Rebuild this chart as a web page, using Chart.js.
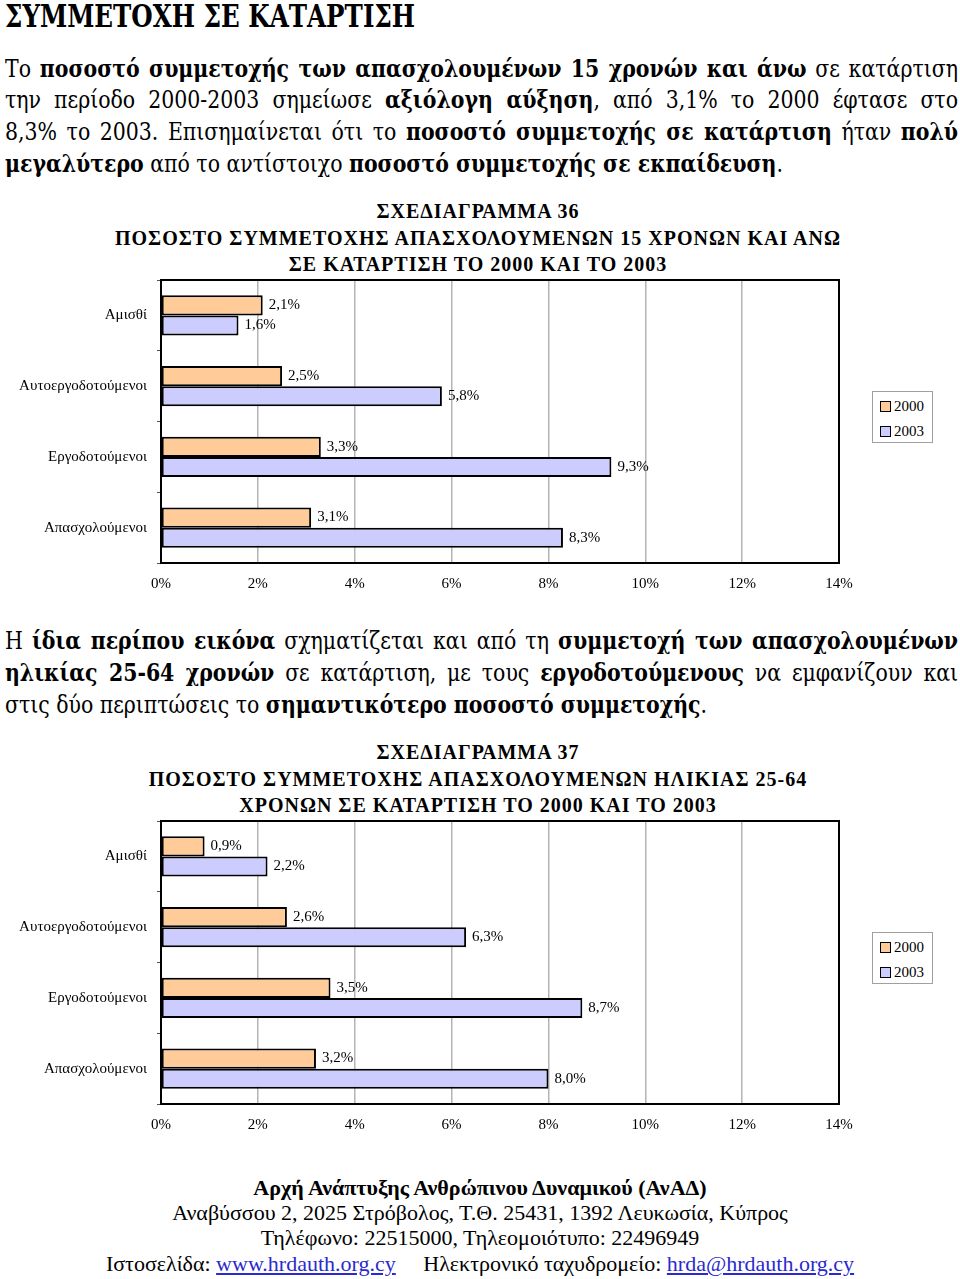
<!DOCTYPE html>
<html lang="el">
<head>
<meta charset="utf-8">
<script src="https://cdn.jsdelivr.net/npm/chart.js@4.4.0/dist/chart.umd.min.js"></script>
<style>
  body { margin: 0; background: #fff; width: 960px; height: 1279px; position: relative; overflow: hidden;
         font-family: "Liberation Serif", serif; color: #000; }
  /* Liberation Serif drops out above ~22px here, so the big text uses DejaVu Serif Condensed */
  .big { font-family: "DejaVu Serif Condensed", "DejaVu Serif", serif; font-stretch: condensed; }
  .h1 { position: absolute; left: 5px; top: -1px; font-weight: bold; font-size: 31px; line-height: 34px;
        white-space: nowrap; transform-origin: 0 0; }
  .ln { position: absolute; left: 5px; width: 953px; height: 32px; line-height: 32px; font-size: 24px;
        white-space: nowrap; text-align: justify; text-align-last: justify; transform-origin: 0 0; }
  .ln.last { text-align-last: left; }
  .probe { position: absolute; left: 0; top: 0; visibility: hidden; white-space: nowrap; }
  .ttl { position: absolute; left: 0; width: 956px; text-align: center; font-weight: bold;
         font-size: 20px; letter-spacing: 1px; line-height: 26.5px; white-space: nowrap; }
  canvas { position: absolute; left: 0; }
  .legend { position: absolute; left: 872px; width: 59px; height: 50px; border: 1px solid #a0a0a0; background: #fff; }
  .legend div { position: absolute; left: 7px; font-size: 15px; line-height: 16px; white-space: nowrap; }
  .legend span.sw { display: inline-block; width: 9px; height: 9px; border: 1.5px solid #000; margin-right: 3px; vertical-align: -1px; }
  .ft { position: absolute; left: 0; width: 960px; text-align: center; font-size: 22px; line-height: 26px; white-space: nowrap; }
  .ft a { color: #2a2ad0; text-decoration: underline; }
</style>
</head>
<body>
<div class="h1 big" id="heading">ΣΥΜΜΕΤΟΧΗ ΣΕ ΚΑΤΑΡΤΙΣΗ</div>

<div class="ln big p1" style="top:53px">Το <b>ποσοστό συμμετοχής των απασχολουμένων 15 χρονών και άνω</b> σε κατάρτιση</div>
<div class="ln big p1" style="top:84px">την περίοδο 2000-2003 σημείωσε <b>αξιόλογη αύξηση</b>, από 3,1% το 2000 έφτασε στο</div>
<div class="ln big p1" style="top:116px">8,3% το 2003. Επισημαίνεται ότι το <b>ποσοστό συμμετοχής σε κατάρτιση</b> ήταν <b>πολύ</b></div>
<div class="ln big p1 last" style="top:148px"><b>μεγαλύτερο</b> από το αντίστοιχο <b>ποσοστό συμμετοχής σε εκπαίδευση</b>.</div>

<div class="ttl" style="top:198px">ΣΧΕΔΙΑΓΡΑΜΜΑ 36<br>ΠΟΣΟΣΤΟ ΣΥΜΜΕΤΟΧΗΣ ΑΠΑΣΧΟΛΟΥΜΕΝΩΝ 15 ΧΡΟΝΩΝ ΚΑΙ ΑΝΩ<br>ΣΕ ΚΑΤΑΡΤΙΣΗ ΤΟ 2000 ΚΑΙ ΤΟ 2003</div>
<canvas id="chart36" width="960" height="339" style="top:261px"></canvas>
<div class="legend" id="legend36" style="top:391px"></div>

<div class="ln big p2" style="top:625px">Η <b>ίδια περίπου εικόνα</b> σχηματίζεται και από τη <b>συμμετοχή των απασχολουμένων</b></div>
<div class="ln big p2" style="top:657px"><b>ηλικίας 25-64 χρονών</b> σε κατάρτιση, με τους <b>εργοδοτούμενους</b> να εμφανίζουν και</div>
<div class="ln big p2 last" style="top:689px">στις δύο περιπτώσεις το <b>σημαντικότερο ποσοστό συμμετοχής</b>.</div>

<div class="ttl" style="top:739px">ΣΧΕΔΙΑΓΡΑΜΜΑ 37<br>ΠΟΣΟΣΤΟ ΣΥΜΜΕΤΟΧΗΣ ΑΠΑΣΧΟΛΟΥΜΕΝΩΝ ΗΛΙΚΙΑΣ 25-64<br>ΧΡΟΝΩΝ ΣΕ ΚΑΤΑΡΤΙΣΗ ΤΟ 2000 ΚΑΙ ΤΟ 2003</div>
<canvas id="chart37" width="960" height="339" style="top:802px"></canvas>
<div class="legend" id="legend37" style="top:932px"></div>

<div class="ft" style="top:1175px"><b>Αρχή Ανάπτυξης Ανθρώπινου Δυναμικού (ΑνΑΔ)</b></div>
<div class="ft" style="top:1200px">Αναβύσσου 2, 2025 Στρόβολος, Τ.Θ. 25431, 1392 Λευκωσία, Κύπρος</div>
<div class="ft" style="top:1225px">Τηλέφωνο: 22515000, Τηλεομοιότυπο: 22496949</div>
<div class="ft" style="top:1251px">Ιστοσελίδα: <a>www.hrdauth.org.cy</a>&nbsp;&nbsp;&nbsp;&nbsp; Ηλεκτρονικό ταχυδρομείο: <a>hrda@hrdauth.org.cy</a></div>

<script>
// data
const categories = ["Αμισθί", "Αυτοεργοδοτούμενοι", "Εργοδοτούμενοι", "Απασχολούμενοι"];
const years = ["2000", "2003"];
const chart36_2000 = [2.1, 2.5, 3.3, 3.1];
const chart36_2003 = [1.6, 5.8, 9.3, 8.3];
const chart37_2000 = [0.9, 2.6, 3.5, 3.2];
const chart37_2003 = [2.2, 6.3, 8.7, 8.0];
const xMax = 14;
const xStep = 2;

const colors = ["#FFCC99", "#CCCCFF"];
const serif = "'Liberation Serif', serif";

const fmt = (v) => v.toFixed(1).replace(".", ",") + "%";

// natural width of an element's content
function textWidth(el) {
  const p = document.createElement("span");
  p.className = "probe big";
  p.style.fontSize = getComputedStyle(el).fontSize;
  p.style.fontWeight = getComputedStyle(el).fontWeight;
  p.innerHTML = el.innerHTML;
  document.body.appendChild(p);
  const w = p.getBoundingClientRect().width;
  p.remove();
  return w;
}

// squeeze the paragraph lines so the last line ends where it does in the scan
function fitParagraph(cls, lastWidth) {
  const lines = document.querySelectorAll("." + cls);
  const sx = Math.min(1, lastWidth / textWidth(lines[lines.length - 1]));
  lines.forEach((l) => {
    l.style.width = 953 / sx + "px";
    l.style.transform = "scaleX(" + sx + ")";
  });
}

const heading = document.getElementById("heading");
heading.style.transform = "scaleX(" + 410 / textWidth(heading) + ")";
fitParagraph("p1", 778);
fitParagraph("p2", 702);

// black frame round the plot area
const framePlugin = {
  id: "frame",
  afterDatasetsDraw(chart) {
    const { ctx, chartArea: a } = chart;
    ctx.save();
    ctx.strokeStyle = "#000";
    ctx.lineWidth = 2;
    ctx.strokeRect(a.left, a.top, a.right - a.left, a.bottom - a.top);
    ctx.restore();
  },
};

// value labels at the end of each bar
const valueLabels = {
  id: "valueLabels",
  afterDatasetsDraw(chart) {
    const ctx = chart.ctx;
    ctx.save();
    ctx.font = "15px " + serif;
    ctx.fillStyle = "#000";
    ctx.textAlign = "left";
    ctx.textBaseline = "middle";
    chart.data.datasets.forEach((ds, i) => {
      chart.getDatasetMeta(i).data.forEach((bar, j) => {
        ctx.fillText(fmt(ds.data[j]), bar.x + 6, bar.y);
      });
    });
    ctx.restore();
  },
};

function buildLegend(id) {
  const el = document.getElementById(id);
  years.forEach((y, i) => {
    const d = document.createElement("div");
    d.style.top = (6 + i * 25) + "px";
    d.innerHTML = '<span class="sw" style="background:' + colors[i] + '"></span>' + y;
    el.appendChild(d);
  });
}

function makeChart(id, d2000, d2003) {
  const ctx = document.getElementById(id).getContext("2d");
  return new Chart(ctx, {
    type: "bar",
    data: {
      labels: categories,
      datasets: [
        { label: years[0], data: d2000, backgroundColor: colors[0] },
        { label: years[1], data: d2003, backgroundColor: colors[1] },
      ],
    },
    options: {
      indexAxis: "y",
      responsive: false,
      animation: false,
      layout: { padding: { left: 0, right: 121, top: 2, bottom: 7 } },
      datasets: {
        bar: {
          borderColor: "#000",
          borderWidth: 2,
          borderSkipped: false,
          categoryPercentage: 0.57,
          barPercentage: 1.0,
        },
      },
      scales: {
        x: {
          min: 0,
          max: xMax,
          ticks: {
            stepSize: xStep,
            callback: (v) => v + "%",
            padding: 12,
            color: "#000",
            font: { family: serif, size: 15 },
          },
          grid: { color: "#b4b4b4", lineWidth: 1.5, drawTicks: false },
          border: { display: false },
          afterFit: (s) => { s.height = 30; },
        },
        y: {
          ticks: { color: "#000", padding: 10, font: { family: serif, size: 15 } },
          grid: { offset: true, drawOnChartArea: false, drawTicks: true, tickLength: 4, color: "#555" },
          border: { display: false },
          afterFit: (s) => { s.width = 161; },
        },
      },
      plugins: {
        legend: { display: false },
        tooltip: { enabled: false },
        title: { display: false },
      },
    },
    plugins: [framePlugin, valueLabels],
  });
}

makeChart("chart36", chart36_2000, chart36_2003);
makeChart("chart37", chart37_2000, chart37_2003);
buildLegend("legend36");
buildLegend("legend37");
</script>
</body>
</html>
